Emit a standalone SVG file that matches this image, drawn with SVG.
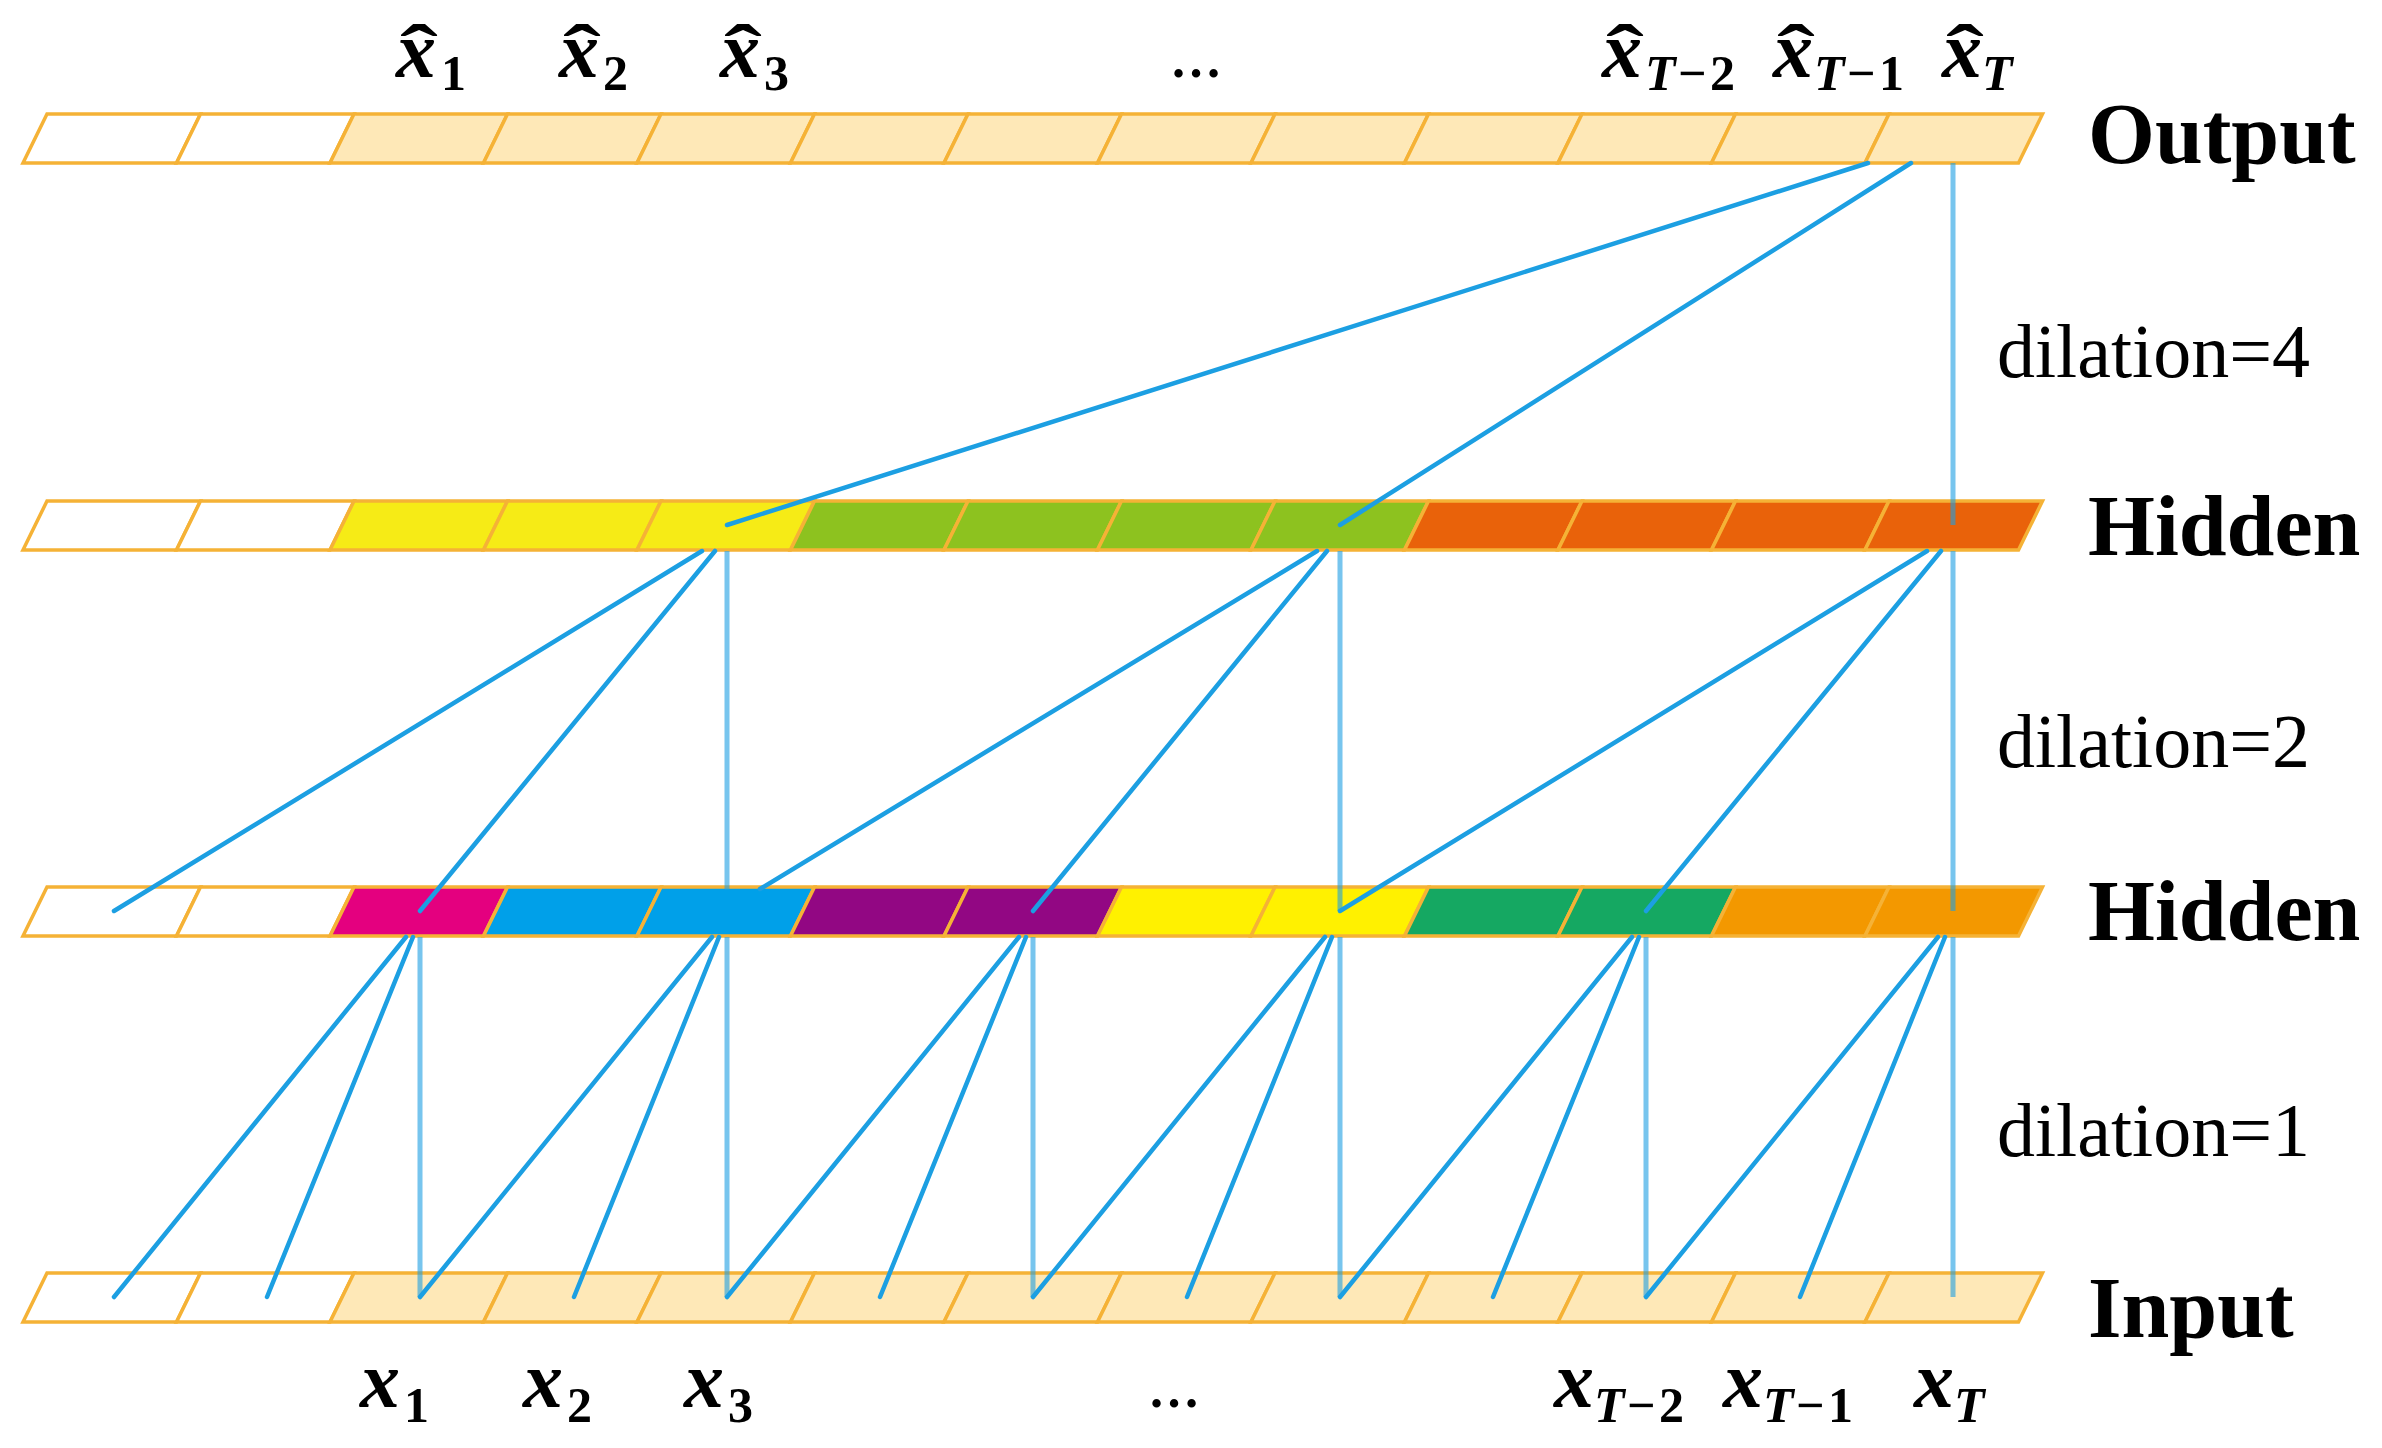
<svg xmlns="http://www.w3.org/2000/svg" xmlns:xlink="http://www.w3.org/1999/xlink" width="2382" height="1448" viewBox="0 0 2382 1448">
<style>
.c{stroke:#F5B236;stroke-width:3.5;stroke-linejoin:miter}
.w{fill:#FFFFFF}.p{fill:#FEE8B7}
.y1{fill:#F6EB16}.g1{fill:#8DC21F}.o1{fill:#E9620A}
.mg{fill:#E4007F}.bl{fill:#00A0E9}.pu{fill:#920783}.y2{fill:#FFF100}.g2{fill:#15A862}.o2{fill:#F39800}
.d{stroke:#1C9FE2;stroke-width:4.5;fill:none;stroke-linecap:round}
.v{stroke:#1C9FE2;stroke-width:5;fill:none;stroke-opacity:0.6}
.mx{font-family:"Liberation Serif",serif;font-weight:bold;font-style:italic;font-size:80px;fill:#000}
.hat{font-family:"Liberation Serif",serif;font-weight:bold;font-size:76px;fill:#000;text-anchor:middle}
.si{font-family:"Liberation Serif",serif;font-weight:bold;font-style:italic;font-size:50px;fill:#000}
.su{font-family:"Liberation Serif",serif;font-weight:bold;font-size:50px;fill:#000}
.dots{font-family:"Liberation Serif",serif;font-weight:bold;font-size:52px;fill:#000}
.lab{font-family:"Liberation Serif",serif;font-weight:bold;font-size:86px;fill:#000}
.dil{font-family:"Liberation Serif",serif;font-size:76px;fill:#000}
</style>
<defs>
<polygon id="cell" points="0,0 153.5,0 129.5,49 -24,49"/>
</defs>
<rect width="2382" height="1448" fill="#FFFFFF"/>

<g id="row-output">
<use xlink:href="#cell" x="47" y="114" class="c w"/>
<use xlink:href="#cell" x="200.5" y="114" class="c w"/>
<use xlink:href="#cell" x="354" y="114" class="c p"/>
<use xlink:href="#cell" x="507.5" y="114" class="c p"/>
<use xlink:href="#cell" x="661" y="114" class="c p"/>
<use xlink:href="#cell" x="814.5" y="114" class="c p"/>
<use xlink:href="#cell" x="968" y="114" class="c p"/>
<use xlink:href="#cell" x="1121.5" y="114" class="c p"/>
<use xlink:href="#cell" x="1275" y="114" class="c p"/>
<use xlink:href="#cell" x="1428.5" y="114" class="c p"/>
<use xlink:href="#cell" x="1582" y="114" class="c p"/>
<use xlink:href="#cell" x="1735.5" y="114" class="c p"/>
<use xlink:href="#cell" x="1889" y="114" class="c p"/>
</g>

<g id="row-hidden2">
<use xlink:href="#cell" x="47" y="501" class="c w"/>
<use xlink:href="#cell" x="200.5" y="501" class="c w"/>
<use xlink:href="#cell" x="354" y="501" class="c y1"/>
<use xlink:href="#cell" x="507.5" y="501" class="c y1"/>
<use xlink:href="#cell" x="661" y="501" class="c y1"/>
<use xlink:href="#cell" x="814.5" y="501" class="c g1"/>
<use xlink:href="#cell" x="968" y="501" class="c g1"/>
<use xlink:href="#cell" x="1121.5" y="501" class="c g1"/>
<use xlink:href="#cell" x="1275" y="501" class="c g1"/>
<use xlink:href="#cell" x="1428.5" y="501" class="c o1"/>
<use xlink:href="#cell" x="1582" y="501" class="c o1"/>
<use xlink:href="#cell" x="1735.5" y="501" class="c o1"/>
<use xlink:href="#cell" x="1889" y="501" class="c o1"/>
</g>

<g id="row-hidden1">
<use xlink:href="#cell" x="47" y="887" class="c w"/>
<use xlink:href="#cell" x="200.5" y="887" class="c w"/>
<use xlink:href="#cell" x="354" y="887" class="c mg"/>
<use xlink:href="#cell" x="507.5" y="887" class="c bl"/>
<use xlink:href="#cell" x="661" y="887" class="c bl"/>
<use xlink:href="#cell" x="814.5" y="887" class="c pu"/>
<use xlink:href="#cell" x="968" y="887" class="c pu"/>
<use xlink:href="#cell" x="1121.5" y="887" class="c y2"/>
<use xlink:href="#cell" x="1275" y="887" class="c y2"/>
<use xlink:href="#cell" x="1428.5" y="887" class="c g2"/>
<use xlink:href="#cell" x="1582" y="887" class="c g2"/>
<use xlink:href="#cell" x="1735.5" y="887" class="c o2"/>
<use xlink:href="#cell" x="1889" y="887" class="c o2"/>
</g>

<g id="row-input">
<use xlink:href="#cell" x="47" y="1273" class="c w"/>
<use xlink:href="#cell" x="200.5" y="1273" class="c w"/>
<use xlink:href="#cell" x="354" y="1273" class="c p"/>
<use xlink:href="#cell" x="507.5" y="1273" class="c p"/>
<use xlink:href="#cell" x="661" y="1273" class="c p"/>
<use xlink:href="#cell" x="814.5" y="1273" class="c p"/>
<use xlink:href="#cell" x="968" y="1273" class="c p"/>
<use xlink:href="#cell" x="1121.5" y="1273" class="c p"/>
<use xlink:href="#cell" x="1275" y="1273" class="c p"/>
<use xlink:href="#cell" x="1428.5" y="1273" class="c p"/>
<use xlink:href="#cell" x="1582" y="1273" class="c p"/>
<use xlink:href="#cell" x="1735.5" y="1273" class="c p"/>
<use xlink:href="#cell" x="1889" y="1273" class="c p"/>
</g>

<g id="connectors">
<path class="d" d="M1868,163 L727,525"/>
<path class="d" d="M1911,163 L1340,525"/>
<path class="v" d="M1953,163 L1953,525"/>

<path class="d" d="M702,551 L114,911"/>
<path class="d" d="M715,551 L420,911"/>
<path class="v" d="M727,551 L727,890"/>
<path class="d" d="M1317,551 L760,889"/>
<path class="d" d="M1327,551 L1033,911"/>
<path class="v" d="M1340,551 L1340,911"/>
<path class="d" d="M1927,551 L1340,911"/>
<path class="d" d="M1941,551 L1646,911"/>
<path class="v" d="M1953,551 L1953,911"/>

<path class="d" d="M406,937 L114,1297"/>
<path class="d" d="M413,937 L267,1297"/>
<path class="v" d="M420,937 L420,1297"/>
<path class="d" d="M712,937 L420,1297"/>
<path class="d" d="M719,937 L574,1297"/>
<path class="v" d="M727,937 L727,1297"/>
<path class="d" d="M1019,937 L727,1297"/>
<path class="d" d="M1026,937 L880,1297"/>
<path class="v" d="M1033,937 L1033,1297"/>
<path class="d" d="M1325,937 L1033,1297"/>
<path class="d" d="M1332,937 L1187,1297"/>
<path class="v" d="M1340,937 L1340,1297"/>
<path class="d" d="M1632,937 L1340,1297"/>
<path class="d" d="M1639,937 L1493,1297"/>
<path class="v" d="M1646,937 L1646,1297"/>
<path class="d" d="M1938,937 L1646,1297"/>
<path class="d" d="M1945,937 L1800,1297"/>
<path class="v" d="M1953,937 L1953,1297"/>
</g>

<g id="labels-top">
<text class="mx" x="396" y="77">x</text><text class="hat" transform="translate(419,78) scale(1.5,1)">ˆ</text><text class="su" x="441" y="90">1</text>
<text class="mx" x="559" y="77">x</text><text class="hat" transform="translate(582,78) scale(1.5,1)">ˆ</text><text class="su" x="603" y="90">2</text>
<text class="mx" x="720" y="77">x</text><text class="hat" transform="translate(743,78) scale(1.5,1)">ˆ</text><text class="su" x="764" y="90">3</text>
<text class="dots" x="1170" y="77">…</text>
<text class="mx" x="1602" y="77">x</text><text class="hat" transform="translate(1625,78) scale(1.5,1)">ˆ</text><text class="si" x="1645" y="90">T</text><text class="su" x="1678" y="90">−</text><text class="su" x="1710" y="90">2</text>
<text class="mx" x="1773" y="77">x</text><text class="hat" transform="translate(1796,78) scale(1.5,1)">ˆ</text><text class="si" x="1814" y="90">T</text><text class="su" x="1847" y="90">−</text><text class="su" x="1879" y="90">1</text>
<text class="mx" x="1942" y="77">x</text><text class="hat" transform="translate(1965,78) scale(1.5,1)">ˆ</text><text class="si" x="1982" y="90">T</text>
</g>

<g id="labels-bottom">
<text class="mx" x="360" y="1407">x</text><text class="su" x="404" y="1422">1</text>
<text class="mx" x="523" y="1407">x</text><text class="su" x="567" y="1422">2</text>
<text class="mx" x="684" y="1407">x</text><text class="su" x="728" y="1422">3</text>
<text class="dots" x="1148" y="1407">…</text>
<text class="mx" x="1554" y="1407">x</text><text class="si" x="1594" y="1422">T</text><text class="su" x="1627" y="1422">−</text><text class="su" x="1659" y="1422">2</text>
<text class="mx" x="1723" y="1407">x</text><text class="si" x="1763" y="1422">T</text><text class="su" x="1796" y="1422">−</text><text class="su" x="1828" y="1422">1</text>
<text class="mx" x="1914" y="1407">x</text><text class="si" x="1954" y="1422">T</text>
</g>

<g id="labels-right">
<text class="lab" x="2088" y="163">Output</text>
<text class="dil" x="1997" y="377">dilation=4</text>
<text class="lab" x="2088" y="555">Hidden</text>
<text class="dil" x="1997" y="767">dilation=2</text>
<text class="lab" x="2088" y="940">Hidden</text>
<text class="dil" x="1997" y="1156">dilation=1</text>
<text class="lab" x="2088" y="1337">Input</text>
</g>
</svg>
